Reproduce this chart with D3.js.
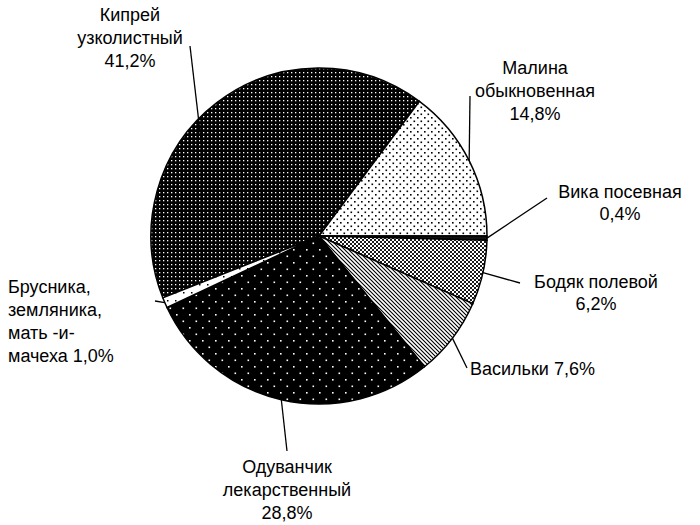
<!DOCTYPE html><html><head><meta charset="utf-8"><script src="https://cdn.jsdelivr.net/npm/d3@7"></script>
<style>body{margin:0;background:#fff}text{font-family:"Liberation Sans",Arial,sans-serif;font-size:18px;fill:#000}</style></head><body>
<svg id="c" width="700" height="525"></svg>
<script>
const categories=["Кипрей узколистный","Малина обыкновенная","Вика посевная","Бодяк полевой","Васильки","Одуванчик лекарственный","Брусника, земляника, мать -и- мачеха"];
const values=[41.2,14.8,0.4,6.2,7.6,28.8,1.0];
const labels=[["Кипрей","узколистный","41,2%"],["Малина","обыкновенная","14,8%"],["Вика посевная","0,4%"],["Бодяк полевой","6,2%"],["Васильки 7,6%"],["Одуванчик","лекарственный","28,8%"],["Брусника,","земляника,","мать -и-","мачеха 1,0%"]];
const svg=d3.select("#c"),defs=svg.append("defs");
function dots(id,bg,fg,s,r,stag){const p=defs.append("pattern").attr("id",id).attr("patternUnits","userSpaceOnUse").attr("width",s).attr("height",s);
p.append("rect").attr("width",s).attr("height",s).attr("fill",bg);
p.append("rect").attr("x",0).attr("y",0).attr("width",r).attr("height",r).attr("fill",fg);
if(stag)p.append("rect").attr("x",s/2).attr("y",s/2).attr("width",r).attr("height",r).attr("fill",fg);}
dots("p0","#000","#fff",4,1.3,false);
dots("p1","#fff","#000",7,1.6,true);
dots("p5","#000","#fff",13,1.6,true);
dots("p6","#fff","#000",8,1.5,false);
let p=defs.append("pattern").attr("id","p3").attr("patternUnits","userSpaceOnUse").attr("width",4).attr("height",4);
p.append("rect").attr("width",4).attr("height",4).attr("fill","#fff");
p.append("path").attr("d","M0,0L4,4M4,0L0,4").attr("stroke","#000").attr("stroke-width",0.9);
p=defs.append("pattern").attr("id","p4").attr("patternUnits","userSpaceOnUse").attr("width",4).attr("height",4);
p.append("rect").attr("width",4).attr("height",4).attr("fill","#fff");
p.append("path").attr("d","M-1,-1L5,5M-1,3L1,5M3,-1L5,1").attr("stroke","#000").attr("stroke-width",1.1);
const fills=["url(#p0)","url(#p1)","#111","url(#p3)","url(#p4)","url(#p5)","url(#p6)"];
const cx=319,cy=236,R=168;
const start=Math.PI/2-(values[0]+values[1])*3.6*Math.PI/180;
const pie=d3.pie().sort(null).startAngle(start).endAngle(start+2*Math.PI)(values);
const arc=d3.arc().innerRadius(0).outerRadius(R);
const g=svg.append("g").attr("transform",`translate(${cx},${cy})`);
g.selectAll("path").data(pie).join("path").attr("d",arc).attr("fill",(d,i)=>fills[i]).attr("stroke","#000").attr("stroke-width",1.5);
// [anchor x, first baseline y, text-anchor, line gap, leader start x,y, radius factor of leader end]
const lay=[[130,21,"middle",23,190,46,0.85],[535,74,"middle",23,470,96,1],[620,198,"middle",22,547,198,1],[596,288,"middle",22,520,283,1],[470,375,"start",22,467,368,1],[287,473,"middle",23,287,451,1],[8,293,"start",23,155,301,1]];
pie.forEach((d,i)=>{const L=lay[i];let a=(d.startAngle+d.endAngle)/2; if(i==0)a=d.startAngle+ (d.endAngle-d.startAngle)*0.5-0.3;
const ex=cx+R*L[6]*Math.sin(a),ey=cy-R*L[6]*Math.cos(a);
svg.append("line").attr("x1",L[4]).attr("y1",L[5]).attr("x2",ex).attr("y2",ey).attr("stroke","#000").attr("stroke-width",1.3);
const t=svg.append("text").attr("text-anchor",L[2]);
labels[i].forEach((s,j)=>t.append("tspan").attr("x",L[0]).attr("y",L[1]+j*L[3]).text(s));});
</script></body></html>
